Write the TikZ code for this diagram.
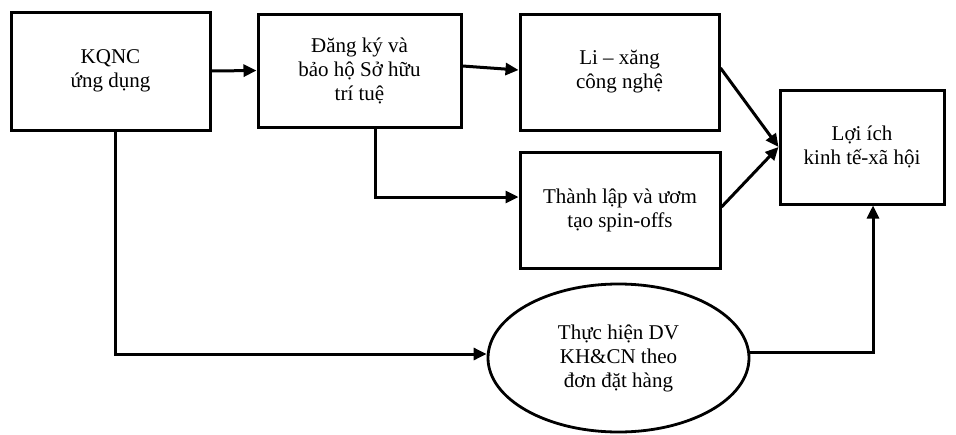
\documentclass[tikz,border=0pt]{standalone}
\usepackage{fontspec}
\setmainfont{Liberation Serif}
\usetikzlibrary{arrows.meta,shapes.geometric}
\begin{document}
\begin{tikzpicture}[x=1pt,y=-1pt,
  box/.style={draw,line width=3pt,rectangle,align=center,
    font=\fontsize{21}{24}\selectfont,inner sep=0pt},
  oval/.style={draw,line width=2.8pt,ellipse,align=center,
    font=\fontsize{21}{24}\selectfont,inner sep=0pt},
  arr/.style={line width=3pt,-{Triangle[length=13pt,width=12pt]}}]
\useasboundingbox (0,0) rectangle (956,434);

\node[box,minimum width=199pt,minimum height=118pt] (kq) at (110.5,71) {KQNC\\ứng dụng};
\node[box,minimum width=203pt,minimum height=113pt] (dk) at (359.5,70.5) {Đăng ký và\\bảo hộ Sở hữu\\trí tuệ};
\node[box,minimum width=199pt,minimum height=116pt] (li) at (619.5,72) {Li – xăng\\công nghệ};
\node[box,minimum width=200pt,minimum height=116pt] (tl) at (620,210) {Thành lập và ươm\\tạo spin-offs};
\node[box,minimum width=164pt,minimum height=114pt] (lo) at (862,147) {Lợi ích\\kinh tế-xã hội};
\node[oval,minimum width=261pt,minimum height=148pt] (dv) at (618.5,358) {Thực hiện DV\\KH\&CN theo\\đơn đặt hàng};

\draw[arr] (kq.east) -- (dk.west);
\draw[arr] ([yshift=4.5pt]dk.east) -- ([yshift=2pt]li.west);
\draw[arr] ([xshift=15.5pt]dk.south) |- ([yshift=13pt]tl.west);
\draw[arr] ([yshift=4pt]li.east) -- (lo.west);
\draw[arr] ([yshift=3pt]tl.east) -- (lo.west);
\draw[arr] ([xshift=4.5pt]kq.south) |- ([yshift=4pt]dv.west);
\draw[arr] ([yshift=6pt]dv.east) -| ([xshift=11pt]lo.south);
\end{tikzpicture}
\end{document}
